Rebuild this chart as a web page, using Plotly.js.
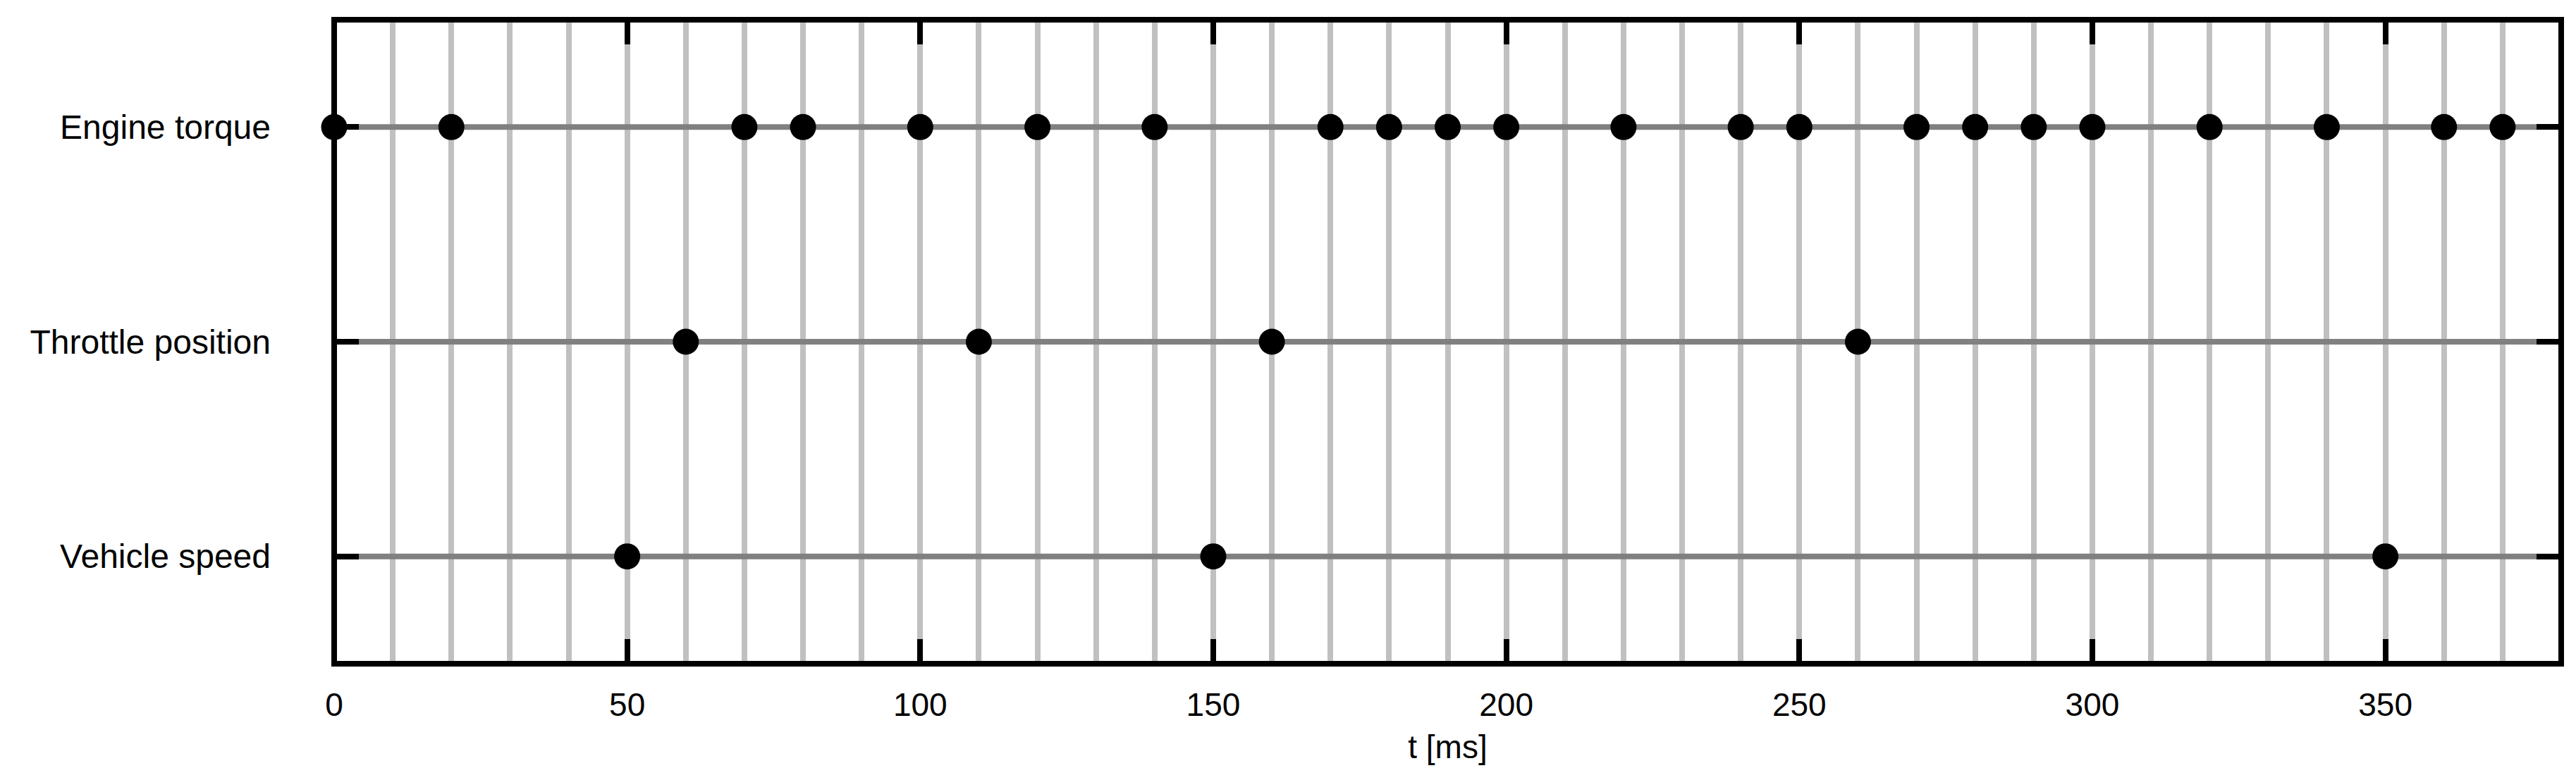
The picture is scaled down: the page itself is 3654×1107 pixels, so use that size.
<!DOCTYPE html>
<html>
<head>
<meta charset="utf-8">
<script src="https://cdn.plot.ly/plotly-3.0.1.min.js"></script>
<style>html,body{margin:0;padding:0;background:#fff;} #chart{width:3654px;height:1107px;}</style>
</head>
<body>
<div id="chart"></div>
<script>
// ---- data ----
const signals = ['Engine torque', 'Throttle position', 'Vehicle speed'];
const engineTorqueTimes = [0, 20, 70, 80, 100, 120, 140, 170, 180, 190, 200, 220, 240, 250, 270, 280, 290, 300, 320, 340, 360, 370];
const throttlePositionTimes = [60, 110, 160, 260];
const vehicleSpeedTimes = [50, 150, 350];
const timeSpan = [0, 380];
const xTickValues = [0, 50, 100, 150, 200, 250, 300, 350];
const xTitle = 't [ms]';

const eventTimes = [engineTorqueTimes, throttlePositionTimes, vehicleSpeedTimes];

const traces = [];
// timeline rows
signals.forEach((s) => {
  traces.push({
    type: 'scatter', mode: 'lines',
    x: timeSpan, y: timeSpan.map(() => s),
    line: {color: '#808080', width: 8},
    hoverinfo: 'skip', showlegend: false, cliponaxis: false
  });
});
// events
signals.forEach((s, i) => {
  traces.push({
    type: 'scatter', mode: 'markers',
    x: eventTimes[i], y: eventTimes[i].map(() => s),
    marker: {color: '#000000', size: 37, line: {width: 0}},
    showlegend: false, cliponaxis: false
  });
});

const fontX = {family: 'Liberation Sans, Arial, Helvetica, sans-serif', size: 46, color: '#000'};
const fontY = {family: 'Liberation Sans, Arial, Helvetica, sans-serif', size: 48, color: '#000'};

const layout = {
  width: 3654, height: 1107,
  margin: {l: 474, r: 21, t: 28, b: 165, pad: 0},
  paper_bgcolor: '#fff', plot_bgcolor: '#fff',
  font: fontX,
  showlegend: false,
  xaxis: {
    range: timeSpan,
    tickmode: 'array', tickvals: xTickValues, ticktext: xTickValues.map(String),
    ticks: 'inside', ticklen: 35, tickwidth: 8, tickcolor: '#000',
    showline: false, mirror: 'ticks',
    showgrid: true, gridcolor: '#c0c0c0', gridwidth: 8,
    minor: {dtick: 10, tick0: 0, showgrid: true, gridcolor: '#c0c0c0', gridwidth: 8, ticks: ''},
    zeroline: false,
    tickfont: fontX,
    ticklabelstandoff: 27,
    title: {text: xTitle, font: fontX, standoff: 18}
  },
  yaxis: {
    type: 'category',
    categoryorder: 'array', categoryarray: signals,
    range: [2.5, -0.5],
    ticks: 'inside', ticklen: 35, tickwidth: 8, tickcolor: '#000',
    showline: false, mirror: 'ticks',
    showgrid: false, zeroline: false,
    tickfont: fontY,
    ticklabelstandoff: 89
  },
  // plot border, centred on the plot-area edges (gnuplot style)
  shapes: [{
    type: 'rect', xref: 'paper', yref: 'paper', x0: 0, x1: 1, y0: 0, y1: 1,
    line: {color: '#000', width: 8}, fillcolor: 'rgba(0,0,0,0)', layer: 'above'
  }]
};

Plotly.newPlot('chart', traces, layout, {displayModeBar: false, staticPlot: true});
</script>
</body>
</html>
